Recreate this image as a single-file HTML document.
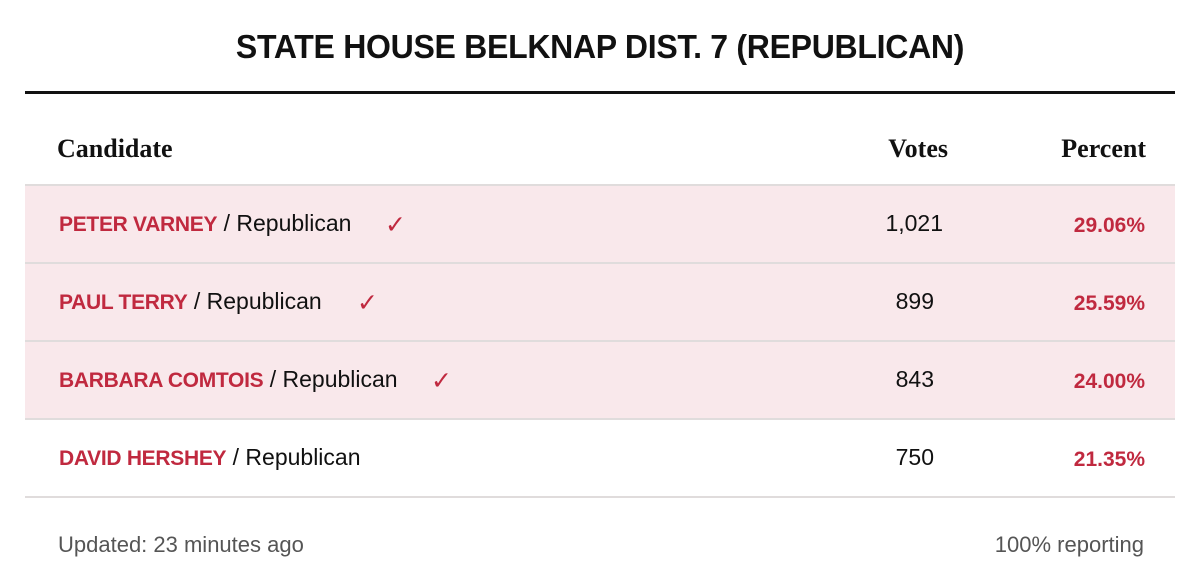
<!DOCTYPE html>
<html><head><meta charset="utf-8"><style>
body{margin:0;width:1200px;height:588px;background:#fff;position:relative;font-family:"Liberation Sans",sans-serif;overflow:hidden}
.abs{position:absolute}
h1{position:absolute;left:0;width:1200px;top:28px;margin:0;text-align:center;font-size:33px;font-weight:bold;letter-spacing:-0.3px;color:#111;transform:scaleX(0.97)}
.rule{left:25px;width:1150px;top:91px;height:3px;background:#111}
.hdr{top:134px;font-family:"Liberation Serif",serif;font-weight:bold;font-size:26px;color:#111}
.row{left:25px;width:1150px;height:76px;border-top:2px solid #e0dcdc}
.pink{background:#f9e8eb}
.cell{position:absolute;top:24px;font-size:23px;color:#111;line-height:27px}
.name{color:#c0293f;font-weight:bold;font-size:21px;letter-spacing:-0.3px}
.pct{color:#c0293f;font-weight:bold;right:30px;font-size:21px;top:26px}
.votes{right:232px}
.chk{position:absolute;top:24px;color:#c0293f;font-size:25px}
.foot{top:532px;font-size:22px;color:#555}
</style></head><body>
<h1>STATE HOUSE BELKNAP DIST. 7 (REPUBLICAN)</h1>
<div class="abs rule"></div>
<div class="abs hdr" style="left:57px">Candidate</div>
<div class="abs hdr" style="right:252px">Votes</div>
<div class="abs hdr" style="right:54px">Percent</div>

<div class="abs row pink" style="top:184px">
<div class="cell" style="left:34px"><span class="name">PETER VARNEY</span> / Republican</div>
<div class="chk" style="left:360px">✓</div>
<div class="cell votes">1,021</div><div class="cell pct">29.06%</div></div>

<div class="abs row pink" style="top:262px">
<div class="cell" style="left:34px"><span class="name">PAUL TERRY</span> / Republican</div>
<div class="chk" style="left:332px">✓</div>
<div class="cell votes" style="right:241px">899</div><div class="cell pct">25.59%</div></div>

<div class="abs row pink" style="top:340px">
<div class="cell" style="left:34px"><span class="name">BARBARA COMTOIS</span> / Republican</div>
<div class="chk" style="left:406px">✓</div>
<div class="cell votes" style="right:241px">843</div><div class="cell pct">24.00%</div></div>

<div class="abs row" style="top:418px;border-bottom:2px solid #e0dcdc">
<div class="cell" style="left:34px"><span class="name">DAVID HERSHEY</span> / Republican</div>
<div class="cell votes" style="right:241px">750</div><div class="cell pct">21.35%</div></div>

<div class="abs foot" style="left:58px">Updated: 23 minutes ago</div>
<div class="abs foot" style="right:56px">100% reporting</div>
</body></html>
